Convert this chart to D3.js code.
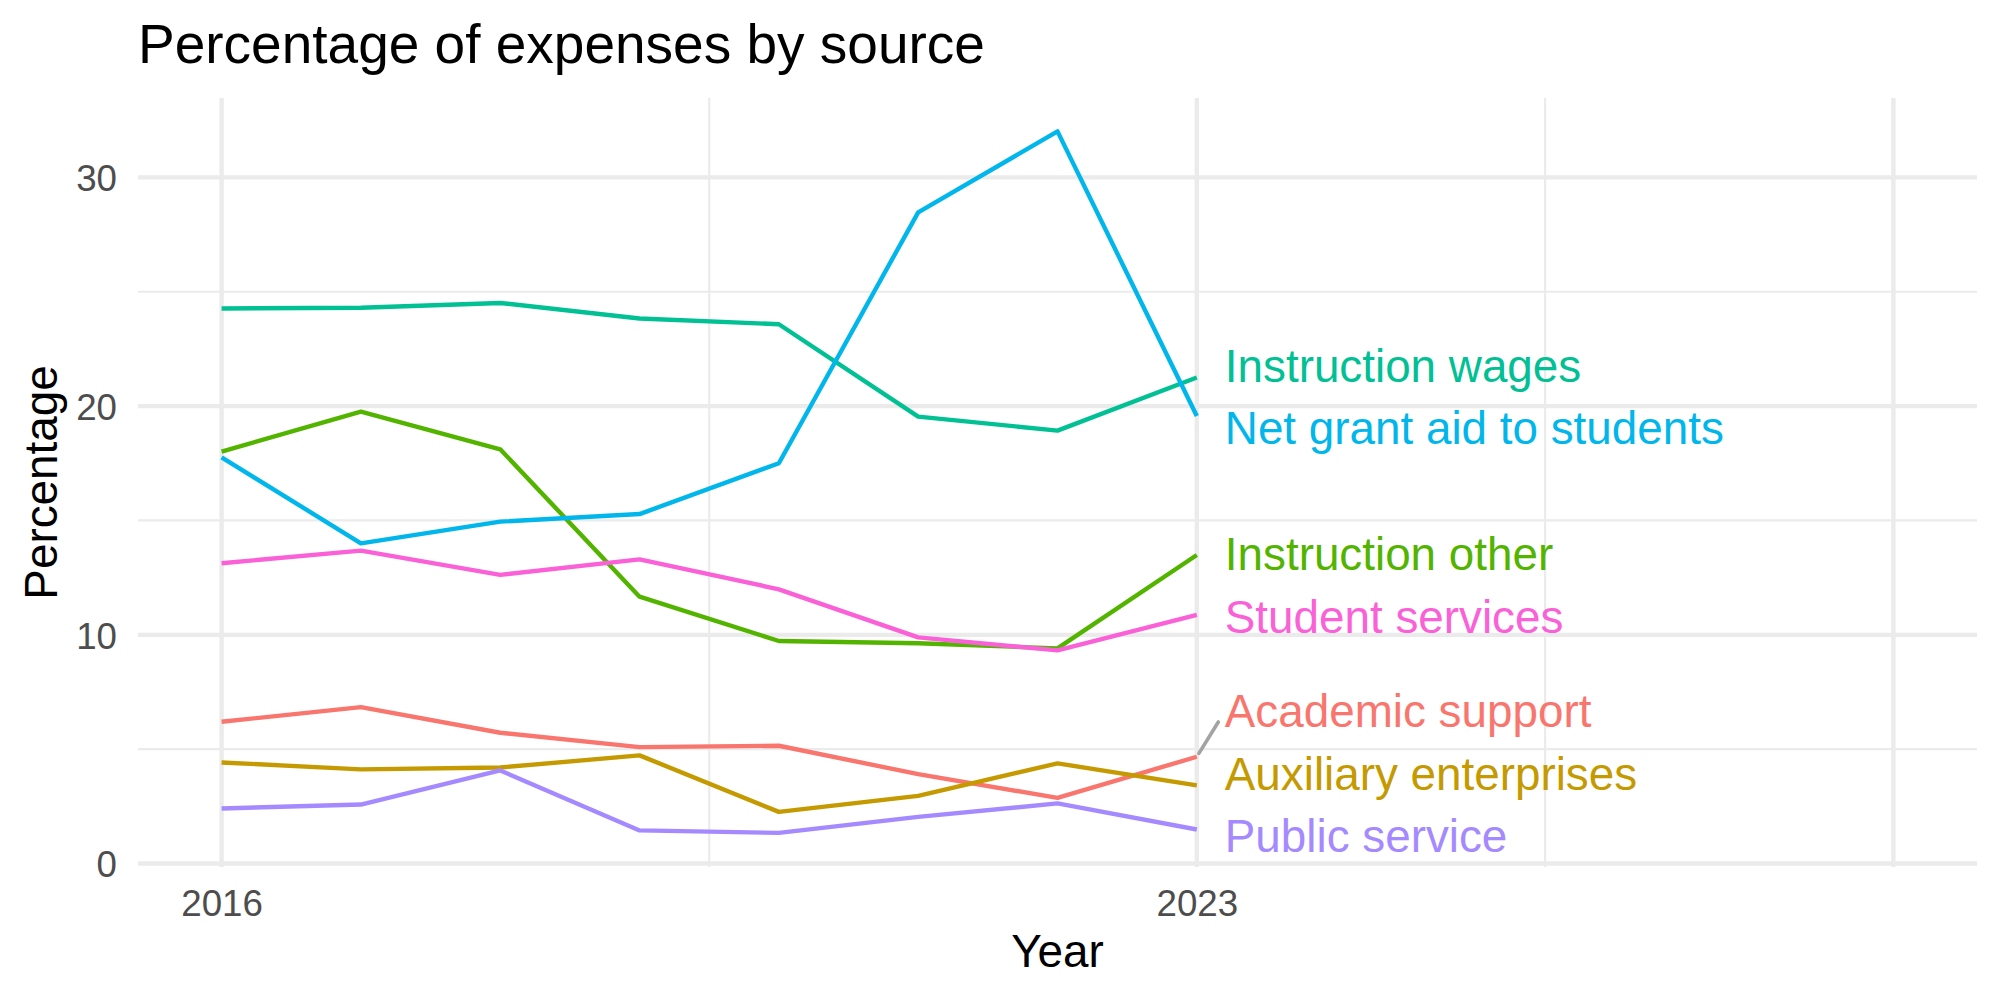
<!DOCTYPE html>
<html>
<head>
<meta charset="utf-8">
<script src="https://cdn.jsdelivr.net/npm/d3@7"></script>
<style>
  html, body { margin: 0; padding: 0; background: #ffffff; }
  svg { display: block; }
  text { font-family: "Liberation Sans", Arial, Helvetica, sans-serif; }
</style>
</head>
<body>
<svg id="chart" width="2000" height="1000"></svg>
<script>
// ---------------- data ----------------
const years = [2016, 2017, 2018, 2019, 2020, 2021, 2022, 2023];
const categories = [
  "Academic support",
  "Auxiliary enterprises",
  "Instruction other",
  "Instruction wages",
  "Net grant aid to students",
  "Public service",
  "Student services"
];
const academicSupport      = [6.20, 6.84, 5.72, 5.09, 5.15, 3.91, 2.87, 4.67];
const auxiliaryEnterprises = [4.42, 4.12, 4.20, 4.73, 2.26, 2.96, 4.38, 3.42];
const instructionOther     = [18.01, 19.76, 18.11, 11.67, 9.73, 9.63, 9.41, 13.49];
const instructionWages     = [24.27, 24.30, 24.51, 23.83, 23.58, 19.54, 18.93, 21.25];
const netGrantAid          = [17.76, 14.00, 14.95, 15.28, 17.50, 28.47, 32.01, 19.57];
const publicService        = [2.41, 2.58, 4.07, 1.45, 1.34, 2.04, 2.63, 1.49];
const studentServices      = [13.13, 13.68, 12.62, 13.30, 11.99, 9.89, 9.32, 10.87];
const seriesValues = [academicSupport, auxiliaryEnterprises, instructionOther,
                      instructionWages, netGrantAid, publicService, studentServices];

const xMajorTicks = [2016, 2023, 2028];
const xTickLabels = ["2016", "2023", ""];
const xMinorTicks = [2019.5, 2025.5];
const yMajorTicks = [0, 10, 20, 30];
const yTickLabels = ["0", "10", "20", "30"];
const yMinorTicks = [5, 15, 25];

const titleText = "Percentage of expenses by source";
const xTitle = "Year";
const yTitle = "Percentage";

// ---------------- layout ----------------
const colors = ["#F8766D", "#C49A00", "#53B400", "#00C094", "#00B6EB", "#A58AFF", "#FB61D7"];
const panel = { left: 138, right: 1977, top: 98, bottom: 867 };

const svg = d3.select("#chart");
svg.append("rect").attr("width", 2000).attr("height", 1000).attr("fill", "#ffffff");

const x = d3.scaleLinear().domain([2015.4, 2028.6]).range([panel.left, panel.right]);
const y = d3.scaleLinear().domain([-0.15, 33.47]).range([panel.bottom, panel.top]);

const grid = svg.append("g");
// minor gridlines
grid.selectAll(".ymin").data(yMinorTicks).join("line")
  .attr("x1", panel.left).attr("x2", panel.right)
  .attr("y1", d => y(d)).attr("y2", d => y(d))
  .attr("stroke", "#EBEBEB").attr("stroke-width", 2.2);
grid.selectAll(".xmin").data(xMinorTicks).join("line")
  .attr("x1", d => x(d)).attr("x2", d => x(d))
  .attr("y1", panel.top).attr("y2", panel.bottom)
  .attr("stroke", "#EBEBEB").attr("stroke-width", 2.2);
// major gridlines
grid.selectAll(".ymaj").data(yMajorTicks).join("line")
  .attr("x1", panel.left).attr("x2", panel.right)
  .attr("y1", d => y(d)).attr("y2", d => y(d))
  .attr("stroke", "#EBEBEB").attr("stroke-width", 4.4);
grid.selectAll(".xmaj").data(xMajorTicks).join("line")
  .attr("x1", d => x(d)).attr("x2", d => x(d))
  .attr("y1", panel.top).attr("y2", panel.bottom)
  .attr("stroke", "#EBEBEB").attr("stroke-width", 4.4);

// axes (labels only)
const xAxis = d3.axisBottom(x).tickValues(xMajorTicks).tickSize(0)
  .tickFormat((d, i) => xTickLabels[i]);
const gx = svg.append("g").attr("transform", `translate(0,${panel.bottom})`).call(xAxis);
gx.select(".domain").remove();
gx.selectAll("text").attr("y", 49).attr("dy", 0)
  .attr("font-size", 36.7).attr("fill", "#4D4D4D")
  .attr("font-family", "Liberation Sans, Arial, sans-serif");

const yAxis = d3.axisLeft(y).tickValues(yMajorTicks).tickSize(0)
  .tickFormat((d, i) => yTickLabels[i]);
const gy = svg.append("g").attr("transform", `translate(${panel.left},0)`).call(yAxis);
gy.select(".domain").remove();
gy.selectAll("text").attr("x", -21).attr("dy", "0.36em")
  .attr("font-size", 36.7).attr("fill", "#4D4D4D")
  .attr("font-family", "Liberation Sans, Arial, sans-serif");

// lines
const line = d3.line().x((d, i) => x(years[i])).y(d => y(d));
svg.append("g").selectAll("path").data(seriesValues).join("path")
  .attr("d", d => line(d))
  .attr("fill", "none")
  .attr("stroke", (d, i) => colors[i])
  .attr("stroke-width", 4.4)
  .attr("stroke-linejoin", "round")
  .attr("stroke-linecap", "butt");

// end labels with simple repel
const lastIdx = years.length - 1;
const labelFont = 45.8;
const minGap = 62.5;
const lo = panel.top + 31, hi = panel.bottom - 31;
let labels = categories.map((c, i) => ({
  name: c, color: colors[i],
  py: y(seriesValues[i][lastIdx]),
  ly: y(seriesValues[i][lastIdx])
}));
const order = labels.slice().sort((a, b) => a.py - b.py);
for (let it = 0; it < 500; it++) {
  for (let k = 0; k < order.length - 1; k++) {
    const a = order[k], b = order[k + 1];
    const gap = b.ly - a.ly;
    if (gap < minGap) {
      const d = (minGap - gap) / 2;
      a.ly -= d; b.ly += d;
    }
  }
  order.forEach(o => { o.ly = Math.max(lo, Math.min(hi, o.ly)); });
}
const px = x(years[lastIdx]);
const lx = px + 28;
const labG = svg.append("g");
labels.forEach(l => {
  if (Math.abs(l.ly - l.py) > 25) {
    const ex = lx - 6.5, ey = l.ly + 11;
    const dx = ex - px, dy = ey - l.py, len = Math.hypot(dx, dy);
    labG.append("line")
      .attr("x1", px + dx / len * 4).attr("y1", l.py + dy / len * 4)
      .attr("x2", ex).attr("y2", ey)
      .attr("stroke", "#A3A3A3").attr("stroke-width", 3.6)
      .attr("stroke-linecap", "round");
  }
});
labG.selectAll("text").data(labels).join("text")
  .attr("x", lx).attr("y", d => d.ly + 16.4)
  .attr("font-size", labelFont)
  .attr("fill", d => d.color)
  .text(d => d.name);

// titles
svg.append("text").attr("x", 138).attr("y", 63)
  .attr("font-size", 55).attr("fill", "#000").text(titleText);
svg.append("text").attr("x", (panel.left + panel.right) / 2).attr("y", 967)
  .attr("text-anchor", "middle").attr("font-size", 45.8).attr("fill", "#000").text(xTitle);
svg.append("text")
  .attr("transform", `translate(57,${(panel.top + panel.bottom) / 2}) rotate(-90)`)
  .attr("text-anchor", "middle").attr("font-size", 45.8).attr("fill", "#000").text(yTitle);
</script>
</body>
</html>
